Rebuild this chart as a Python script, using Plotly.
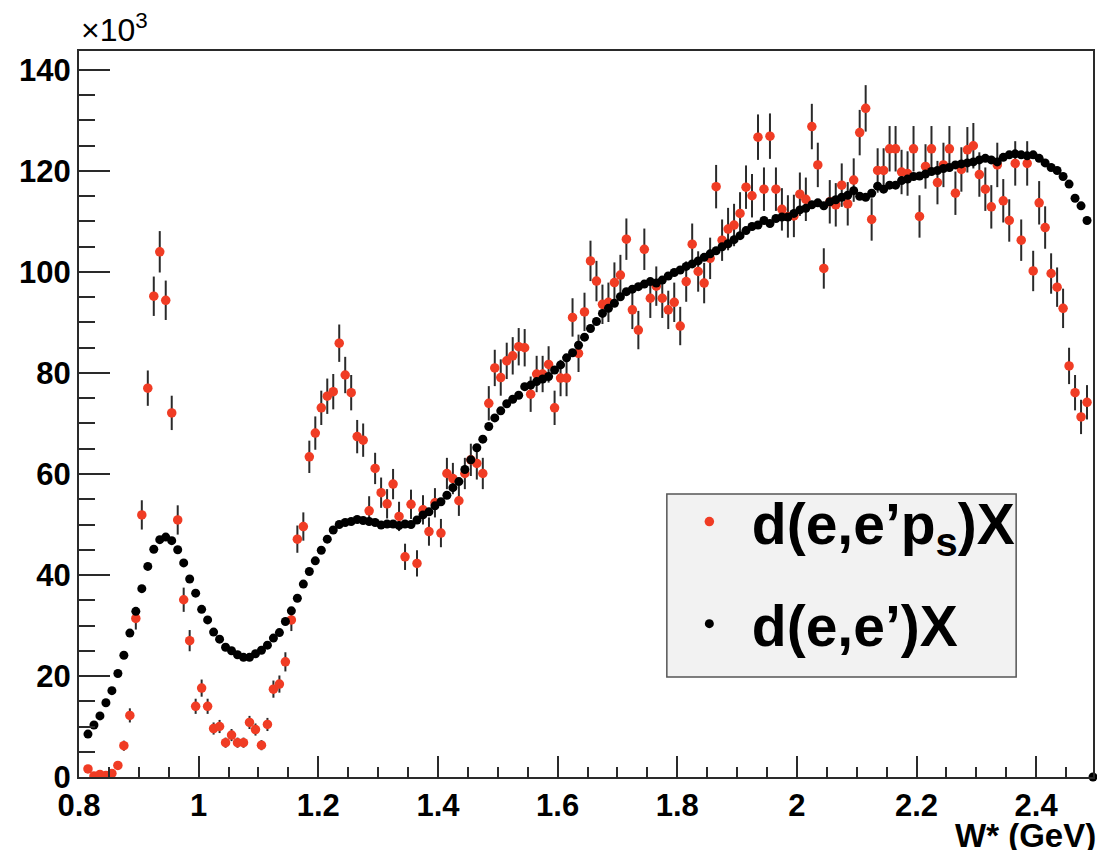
import numpy as np
import plotly.graph_objects as go

# W* histograms, 0.01 GeV bins; yields in units of 10^3 counts
BIN_WIDTH = 0.01
FIRST_CENTER = 0.815

# d(e,e'p_s)X  (spectator-tagged)
tagged_k = [
    1.6, 0.2, 0.5, 0.3, 0.7, 2.3, 6.2, 12.2, 31.4, 51.9,
    77.0, 95.2, 104.0, 94.4, 72.1, 50.9, 35.1, 27.0, 14.0, 17.6,
    14.0, 9.6, 10.0, 6.8, 8.3, 6.8, 6.8, 10.8, 9.4, 6.3,
    10.4, 17.4, 18.4, 22.8, 31.1, 47.1, 49.6, 63.4, 68.1, 73.1,
    75.4, 76.3, 85.9, 79.6, 76.1, 67.4, 66.7, 52.7, 61.1, 56.3,
    54.1, 58.0, 51.6, 43.6, 54.0, 42.3, 52.9, 48.6, 54.3, 48.3,
    60.1, 59.1, 54.7, 60.1, 62.8, 62.1, 60.1, 74.0, 81.0, 79.1,
    82.4, 83.4, 85.2, 85.0, 75.8, 79.8, 79.8, 81.7, 73.1, 79.0,
    79.0, 91.0, 83.9, 92.1, 102.2, 98.2, 93.6, 94.0, 97.9, 99.4,
    106.5, 92.5, 88.5, 104.5, 94.8, 97.2, 94.8, 92.5, 94.0, 89.3,
    98.1, 105.5, 100.1, 97.8, 102.7, 116.9, 106.3, 108.5, 109.3, 111.6,
    116.8, 115.1, 126.7, 116.4, 126.9, 116.4, 112.4, 111.0, 111.1, 115.4,
    114.4, 128.8, 121.2, 100.7, 113.9, 113.3, 117.2, 113.5, 118.2, 127.6,
    132.4, 110.4, 120.1, 120.1, 124.4, 124.4, 119.8, 119.5, 124.4, 111.0,
    120.9, 124.4, 117.7, 121.2, 124.4, 115.6, 120.3, 124.2, 125.0, 119.3,
    116.4, 112.9, 121.2, 114.1, 110.2, 121.5, 106.3, 121.5, 100.2, 113.7,
    108.8, 99.7, 97.0, 92.8, 81.4, 76.1, 71.3, 74.2,
]

tagged_err_k = [
    0.5, 0.2, 0.3, 0.2, 0.3, 0.6, 1.0, 1.4, 2.2, 2.9,
    3.5, 3.9, 4.1, 3.9, 3.4, 2.9, 2.4, 2.1, 1.5, 1.7,
    1.5, 1.2, 1.3, 1.0, 1.2, 1.0, 1.0, 1.3, 1.2, 1.0,
    1.3, 1.7, 1.7, 1.9, 2.2, 2.7, 2.8, 3.2, 3.3, 3.4,
    3.5, 3.5, 3.7, 3.6, 3.5, 3.3, 3.3, 2.9, 3.1, 3.0,
    2.9, 3.0, 2.9, 2.6, 2.9, 2.6, 2.9, 2.8, 2.9, 2.8,
    3.1, 3.1, 3.0, 3.1, 3.2, 3.2, 3.1, 3.4, 3.6, 3.6,
    3.6, 3.7, 3.7, 3.7, 3.5, 3.6, 3.6, 3.6, 3.4, 3.6,
    3.6, 3.8, 3.7, 3.8, 4.0, 4.0, 3.9, 3.9, 4.0, 4.0,
    4.1, 3.8, 3.8, 4.1, 3.9, 3.9, 3.9, 3.8, 3.9, 3.8,
    4.0, 4.1, 4.0, 4.0, 4.1, 4.3, 4.1, 4.2, 4.2, 4.2,
    4.3, 4.3, 4.5, 4.3, 4.5, 4.3, 4.2, 4.2, 4.2, 4.3,
    4.3, 4.5, 4.4, 4.0, 4.3, 4.3, 4.3, 4.3, 4.3, 4.5,
    4.6, 4.2, 4.4, 4.4, 4.5, 4.5, 4.4, 4.4, 4.5, 4.2,
    4.4, 4.5, 4.3, 4.4, 4.5, 4.3, 4.4, 4.5, 4.5, 4.4,
    4.3, 4.3, 4.4, 4.3, 4.2, 4.4, 4.1, 4.4, 4.0, 4.3,
    4.2, 4.0, 3.9, 3.9, 3.6, 3.5, 3.4, 3.4,
]

# d(e,e')X  (inclusive, scaled)
inclusive_k = [
    8.5, 10.3, 12.1, 14.7, 17.1, 20.5, 24.1, 28.5, 32.8, 37.3,
    41.7, 45.1, 47.0, 47.5, 46.8, 45.0, 42.4, 39.2, 36.4, 33.2,
    31.1, 28.7, 27.3, 25.7, 25.0, 24.2, 23.7, 23.7, 24.4, 25.1,
    26.1, 27.5, 28.6, 30.8, 32.9, 35.4, 38.2, 40.7, 42.8, 44.9,
    47.1, 48.9, 50.0, 50.4, 50.6, 51.0, 50.8, 50.6, 50.4, 49.9,
    50.1, 50.1, 49.8, 50.1, 50.0, 50.9, 51.9, 52.5, 53.7, 54.5,
    55.8, 57.3, 58.5, 60.9, 62.8, 65.2, 66.9, 69.4, 71.1, 72.5,
    73.9, 74.8, 75.6, 77.3, 77.6, 78.3, 78.8, 79.3, 80.6, 81.6,
    83.0, 84.0, 85.5, 87.1, 88.8, 90.2, 91.8, 92.8, 93.8, 95.1,
    96.1, 96.6, 97.1, 97.6, 98.1, 97.8, 98.4, 99.2, 99.9, 100.4,
    101.1, 101.6, 102.2, 102.9, 103.6, 104.2, 105.0, 105.6, 106.4, 107.2,
    108.2, 109.0, 109.3, 110.2, 109.6, 110.6, 110.9, 110.9, 111.6, 112.3,
    112.6, 113.3, 113.7, 113.1, 113.9, 114.3, 114.8, 115.2, 116.1, 115.0,
    114.8, 115.6, 117.0, 116.4, 117.2, 117.2, 118.1, 118.4, 118.9, 119.0,
    119.4, 119.9, 120.1, 120.5, 120.7, 121.2, 121.4, 121.6, 121.8, 122.2,
    122.5, 122.2, 121.8, 122.7, 123.2, 123.4, 123.2, 123.0, 123.2, 122.5,
    121.6, 120.7, 120.1, 118.9, 117.4, 114.6, 113.1, 110.2, 0.0,
]

x_tick_vals = [0.8, 1.0, 1.2, 1.4, 1.6, 1.8, 2.0, 2.2, 2.4]
x_tick_text = ["0.8", "1", "1.2", "1.4", "1.6", "1.8", "2", "2.2", "2.4"]
y_tick_vals = [0, 20, 40, 60, 80, 100, 120, 140]
y_tick_text = ["0", "20", "40", "60", "80", "100", "120", "140"]

w_tagged = np.round(FIRST_CENTER + BIN_WIDTH * np.arange(len(tagged_k)), 3)
w_inclusive = np.round(FIRST_CENTER + BIN_WIDTH * np.arange(len(inclusive_k)), 3)

RED = "#f03c24"
FONT = "Liberation Sans"
FRAME = "#2a2a2a"

# plot-area pixel geometry, used to place the legend box in paper units
L, R, T, B = 79, 2, 51, 73
PW, PH = 1097 - L - R, 850 - T - B


def px_x(px):
    return (px - L) / PW


def px_y(py):
    return (850 - B - py) / PH


fig = go.Figure()

fig.add_trace(go.Scatter(
    x=w_tagged, y=tagged_k, mode="markers",
    name="d(e,e’p<sub>s</sub>)X",
    marker=dict(color=RED, size=9.5, line=dict(width=0)),
    error_y=dict(type="data", array=tagged_err_k, visible=True,
                 color=FRAME, thickness=2, width=0),
    legendgroup="a",
))

fig.add_trace(go.Scatter(
    x=w_inclusive, y=inclusive_k, mode="markers",
    name="d(e,e’)X",
    marker=dict(color="black", size=9, line=dict(width=0)),
    cliponaxis=False,
    legendgroup="b",
))

axis_common = dict(
    showline=True, linecolor=FRAME, linewidth=2, mirror=True,
    ticks="inside", tickcolor=FRAME, tickwidth=2,
    showgrid=False, zeroline=False,
    tickfont=dict(family=FONT, size=31, color="black", weight="bold"),
)

fig.update_xaxes(
    range=[0.8, 2.495], tickvals=x_tick_vals, ticktext=x_tick_text,
    ticklen=21,
    minor=dict(dtick=0.05, tick0=0.8, ticks="inside", ticklen=10,
               tickcolor=FRAME, tickwidth=1.5, showgrid=False),
    **axis_common,
)
fig.update_yaxes(
    range=[0, 143.76], tickvals=y_tick_vals, ticktext=y_tick_text,
    ticklen=31,
    minor=dict(dtick=5, tick0=0, ticks="inside", ticklen=16,
               tickcolor=FRAME, tickwidth=1.5, showgrid=False),
    **axis_common,
)

# legend frame
fig.add_shape(
    type="rect", xref="paper", yref="paper",
    x0=px_x(668), x1=px_x(1018), y0=px_y(677), y1=px_y(494),
    fillcolor="#f2f2f2", line=dict(color="#555555", width=1.5),
    layer="above",
)

fig.add_annotation(
    text="×10<sup>3</sup>", xref="paper", yref="paper",
    x=0.0, y=1.0, xanchor="left", yanchor="bottom", yshift=1,
    showarrow=False, font=dict(family=FONT, size=32, color="black"),
)
fig.add_annotation(
    text="<b>W* (GeV)</b>", xref="paper", yref="paper",
    x=px_x(1100), y=0.0, xanchor="right", yanchor="top", yshift=-38,
    showarrow=False, font=dict(family=FONT, size=33, color="black"),
)

fig.update_layout(
    width=1097, height=850,
    margin=dict(l=L, r=R, t=T, b=B),
    paper_bgcolor="white", plot_bgcolor="white",
    showlegend=True,
    legend=dict(
        x=px_x(668), y=px_y(478), xanchor="left", yanchor="top",
        bgcolor="rgba(0,0,0,0)", borderwidth=0,
        font=dict(family=FONT, size=57, color="black", weight="bold"),
        tracegroupgap=25, itemwidth=75,
    ),
)

fig.write_html("out.html")
